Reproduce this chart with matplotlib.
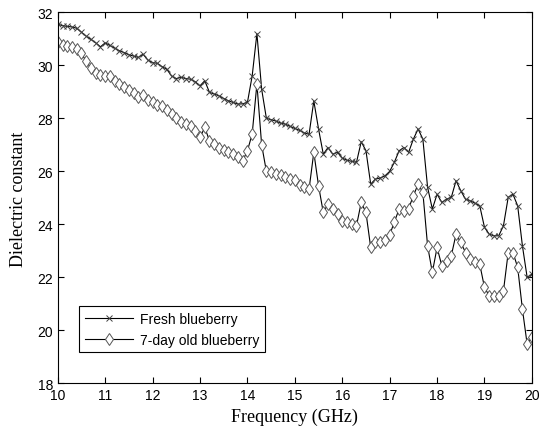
import matplotlib
matplotlib.use("Agg")
import matplotlib.pyplot as plt
import numpy as np

# frequency in GHz, 0.1 GHz step
freq = [round(10 + 0.1 * i, 1) for i in range(101)]

fresh = [31.55, 31.50, 31.47, 31.45, 31.40, 31.25, 31.10, 30.98, 30.85, 30.70,
         30.85, 30.75, 30.65, 30.55, 30.48, 30.40, 30.35, 30.30, 30.42, 30.20,
         30.10, 30.08, 29.95, 29.85, 29.60, 29.50, 29.55, 29.50, 29.48, 29.38,
         29.23, 29.42, 28.98, 28.92, 28.85, 28.75, 28.66, 28.60, 28.54, 28.55,
         28.60, 29.60, 31.20, 29.10, 28.00, 27.95, 27.90, 27.82, 27.78, 27.70,
         27.62, 27.55, 27.45, 27.40, 28.66, 27.60, 26.65, 26.90, 26.65, 26.72,
         26.50, 26.42, 26.38, 26.34, 27.12, 26.78, 25.52, 25.71, 25.75, 25.83,
         26.00, 26.35, 26.78, 26.90, 26.72, 27.22, 27.60, 27.22, 25.40, 24.58,
         25.14, 24.83, 24.95, 25.02, 25.65, 25.27, 24.95, 24.89, 24.80, 24.70,
         23.89, 23.63, 23.57, 23.57, 23.95, 25.02, 25.14, 24.70, 23.19, 22.00,
         22.12]

old = [30.87, 30.78, 30.74, 30.70, 30.60, 30.45, 30.15, 29.90, 29.70, 29.62,
       29.60, 29.61, 29.42, 29.30, 29.20, 29.06, 28.95, 28.82, 28.90, 28.70,
       28.60, 28.52, 28.48, 28.33, 28.15, 28.00, 27.85, 27.80, 27.70, 27.53,
       27.28, 27.66, 27.15, 27.03, 26.90, 26.80, 26.72, 26.65, 26.53, 26.40,
       26.78, 27.41, 29.30, 27.00, 26.00, 25.96, 25.92, 25.85, 25.77, 25.70,
       25.68, 25.50, 25.40, 25.33, 26.72, 25.46, 24.45, 24.77, 24.60, 24.39,
       24.14, 24.08, 24.00, 23.95, 24.83, 24.45, 23.13, 23.32, 23.32, 23.40,
       23.60, 24.10, 24.58, 24.51, 24.60, 25.08, 25.52, 25.21, 23.19, 22.19,
       23.13, 22.44, 22.63, 22.82, 23.63, 23.32, 22.94, 22.69, 22.60, 22.50,
       21.62, 21.31, 21.31, 21.31, 21.49, 22.94, 22.94, 22.38, 20.80, 19.48,
       19.74]

labels = ["Fresh blueberry", "7-day old blueberry"]

fig = plt.figure(figsize=(5.4, 4.31), dpi=100)
ax = fig.add_axes([0.107, 0.108, 0.878, 0.861])

ax.plot(freq, fresh, color="black", lw=0.8, marker="x", ms=4.5, mew=0.7,
        mec="#404040", label=labels[0])
ax.plot(freq, old, color="black", lw=0.8, marker="d", ms=6.5, mew=0.7,
        mfc="white", mec="#555555", label=labels[1])

ax.set_xlim(10, 20)
ax.set_ylim(18, 32)
ax.set_xticks(range(10, 21))
ax.set_yticks(range(18, 33, 2))
ax.tick_params(direction="in", top=True, right=True, length=4, width=0.8,
               labelsize=10)
for lab in ax.get_xticklabels() + ax.get_yticklabels():
    lab.set_family("Liberation Sans")
for s in ax.spines.values():
    s.set_linewidth(0.8)

ax.set_xlabel("Frequency (GHz)", fontsize=13, family="Liberation Serif", labelpad=4)
ax.set_ylabel("Dielectric constant", fontsize=13, family="Liberation Serif", labelpad=7)

leg = ax.legend(loc="lower left", bbox_to_anchor=(0.03, 0.065), numpoints=1,
                fancybox=False, edgecolor="black", framealpha=1,
                prop={"family": "Liberation Sans", "size": 10},
                handlelength=3.5, borderpad=0.4, labelspacing=0.5, handletextpad=0.5)
leg.get_frame().set_linewidth(0.8)

fig.savefig("out.png", dpi=100)
